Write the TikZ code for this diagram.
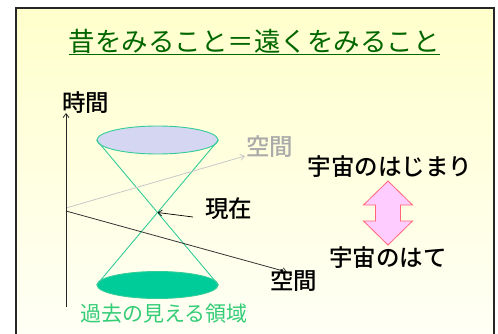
\documentclass[tikz,border=0pt]{standalone}
\usepackage{fontspec}
\setmainfont{Noto Sans CJK JP}
\newfontfamily\jpmed{Noto Sans CJK JP Medium}
\usetikzlibrary{arrows.meta,shapes.geometric}
\definecolor{titlegreen}{HTML}{006600}
\definecolor{conegreen}{HTML}{33CC99}
\definecolor{pastgreen}{HTML}{00CC99}
\definecolor{labelgreen}{HTML}{33CC77}
\definecolor{futurelav}{HTML}{D4D6F2}
\definecolor{bgtop}{HTML}{FFFFCC}
\definecolor{bgbot}{HTML}{FFFFF6}
\definecolor{arrowpink}{HTML}{FFCCFF}
\definecolor{arrowred}{HTML}{FF6677}
\definecolor{lightaxis}{HTML}{C8C8C8}
\begin{document}
\begin{tikzpicture}[x=1pt,y=-1pt,
  label24/.style={inner sep=0pt, font=\jpmed\fontsize{23.5}{23.5}\selectfont},
  axisline/.style={line width=0.8pt, -{Straight Barb[length=4pt,width=6pt]}},
  cone/.style={draw=conegreen, line width=0.9pt},
  disc/.style={draw=conegreen, line width=0.9pt, ellipse, minimum width=121pt, inner sep=0pt}]
  \useasboundingbox (0,0) rectangle (498,334);
  % slide panel with soft vertical gradient
  \shade[top color=bgtop, bottom color=bgbot] (16,8) rectangle (494,340);
  \draw[line width=2pt, black!85] (16,340) -- (16,8) -- (494,8) -- (494,340);
  % title
  \node[inner sep=0pt, text=titlegreen, font=\fontsize{26.5}{26.5}\selectfont] (title) at (254,42)
    {\underline{昔をみること＝遠くをみること}};
  % light cone
  \coordinate (now) at (157.5,212.5);
  \node[disc, fill=futurelav, minimum height=28pt] (future) at (157.5,140) {};
  \node[disc, fill=pastgreen, minimum height=27pt] (past) at (157.5,285) {};
  \draw[cone] (future.west) -- (past.east);
  \draw[cone] (future.east) -- (past.west);
  % axes
  \coordinate (origin) at (66,307);
  \coordinate (o2) at (66,208);
  \coordinate (o3) at (66,211);
  \coordinate (ttip) at (66,113);
  \coordinate (s1tip) at (245,156);
  \coordinate (s2tip) at (287,272);
  \draw[axisline, lightaxis] (o2) -- (s1tip);
  \draw[axisline, black!80] (o3) -- (s2tip);
  \draw[axisline, black!85] (origin) -- (ttip);
  \node[label24, anchor=south west] (time) at (62,114) {時間};
  \node[label24, anchor=west, text=lightaxis!85!black] (space1) at (246,147) {空間};
  \node[label24, anchor=west] (space2) at (270,281) {空間};
  \node[label24, anchor=west] (nowlabel) at (205,209) {現在};
  \draw[line width=0.7pt, -{Straight Barb[length=4pt,width=6pt]}] (193,217) -- (now);
  \node[inner sep=0pt, text=labelgreen, font=\fontsize{21}{21}\selectfont] (pastlabel) at (164,314) {過去の見える領域};
  % beginning and edge of the universe
  \node[label24] (begin) at (390,167) {宇宙のはじまり};
  \node[label24] (edge) at (388,258) {宇宙のはて};
  \draw[fill=arrowpink, draw=arrowred, line width=0.8pt]
    (388,181) -- (412.5,205) -- (400.5,205) -- (400.5,221) -- (412.5,221) -- (388,245)
    -- (363.5,221) -- (375.5,221) -- (375.5,205) -- (363.5,205) -- cycle;
\end{tikzpicture}
\end{document}
